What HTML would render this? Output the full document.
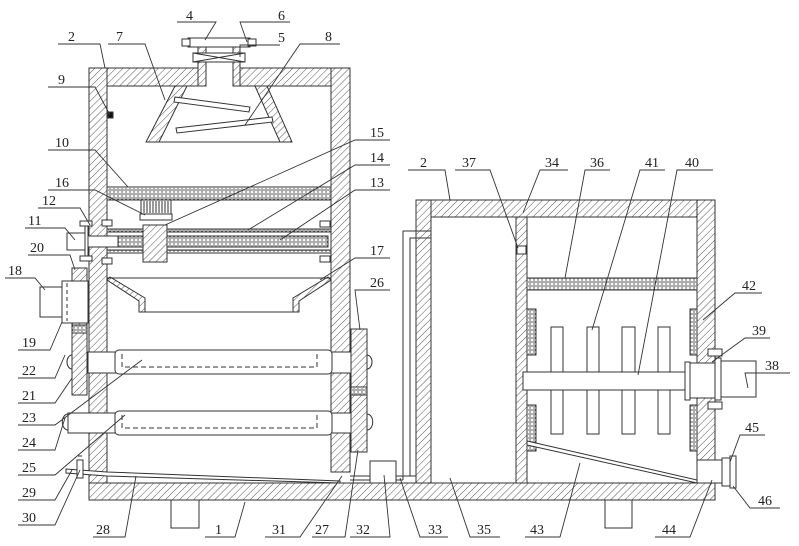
<!DOCTYPE html>
<html><head><meta charset="utf-8"><style>
html,body{margin:0;padding:0;background:#fff;}
svg{display:block;}
text{font-family:"Liberation Serif",serif;font-size:14px;fill:#222;}
</style></head><body>
<svg width="799" height="546" viewBox="0 0 799 546" xmlns="http://www.w3.org/2000/svg">
<defs>
<pattern id="h" width="5" height="5" patternUnits="userSpaceOnUse" patternTransform="rotate(45)">
<rect width="5" height="5" fill="#fff"/><line x1="0" y1="0" x2="0" y2="5" stroke="#555" stroke-width="1"/></pattern>
<pattern id="x" width="4" height="4" patternUnits="userSpaceOnUse">
<rect width="4" height="4" fill="#fff"/><circle cx="2" cy="2" r="1.2" fill="none" stroke="#444" stroke-width="0.7"/></pattern>
</defs>
<g stroke="#333" stroke-width="1" fill="url(#h)">
<rect x="89" y="68" width="109" height="18"/>
<rect x="240" y="68" width="110" height="18"/>
<rect x="331" y="68" width="19" height="404"/>
<rect x="89" y="68" width="18" height="415"/>
<rect x="89" y="483" width="626" height="17"/>
<rect x="416" y="200" width="299" height="17"/>
<rect x="416" y="200" width="15" height="283"/>
<rect x="697" y="200" width="18" height="260"/>
<rect x="516" y="217" width="11" height="266"/>
<rect x="198" y="45" width="8" height="41"/>
<rect x="233" y="45" width="7" height="41"/>
<polygon points="175,86 187,86 159,142 146,142"/>
<polygon points="255,86 267,86 292,142 280,142"/>
<rect x="72" y="268" width="15" height="127"/>
<rect x="351" y="329" width="16" height="123"/>
<polygon points="107,280 110,277 145,298 145,312 139,312 139,301"/>
<polygon points="331,280 328,277 293,298 293,312 299,312 299,301"/>
</g>
<g stroke="#333" stroke-width="1" fill="url(#x)">
<rect x="107" y="187" width="224" height="13"/>
<rect x="527" y="278" width="170" height="12"/>
<rect x="527" y="309" width="9" height="46"/>
<rect x="527" y="405" width="9" height="46"/>
<rect x="690" y="309" width="7" height="46"/>
<rect x="690" y="405" width="7" height="46"/>
<rect x="72" y="325" width="15" height="8"/>
<rect x="351" y="387" width="16" height="8"/>
</g>
<g stroke="#333" stroke-width="1" fill="#fff">
<rect x="193" y="53" width="52" height="9"/>
<line x1="193" y1="53" x2="245" y2="62"/><line x1="193" y1="62" x2="245" y2="53"/>
<rect x="188" y="38" width="62" height="9"/>
<rect x="182" y="39" width="8" height="7"/><rect x="248" y="39" width="8" height="7"/>
<line x1="146" y1="142" x2="292" y2="142"/>
<polygon points="175,97 250,107 249,112 174,102"/>
<polygon points="176,128 272,117 273,122 177,133"/>
<rect x="108" y="112" width="5" height="6" fill="#111"/>
<rect x="107" y="229" width="224" height="3" fill="url(#x)"/>
<rect x="107" y="250" width="224" height="3" fill="url(#x)"/>
<rect x="118" y="236" width="210" height="11" fill="url(#x)"/>
<rect x="143" y="225" width="24" height="37" fill="url(#h)"/>
<rect x="140" y="214" width="32" height="6"/>
<rect x="141" y="200" width="30" height="14"/>
<path d="M144 201V213M147 201V213M150 201V213M153 201V213M156 201V213M159 201V213M162 201V213M165 201V213M168 201V213" fill="none"/>
<rect x="67" y="233" width="18" height="17"/>
<rect x="85" y="226" width="3" height="32"/>
<rect x="88" y="236" width="30" height="11"/>
<rect x="80" y="221" width="12" height="5"/><rect x="80" y="256" width="12" height="5"/>
<rect x="102" y="220" width="10" height="6"/><rect x="102" y="258" width="10" height="6"/>
<rect x="320" y="221" width="10" height="6"/><rect x="320" y="256" width="10" height="6"/>
<line x1="107" y1="278" x2="331" y2="278"/>
<line x1="145" y1="312" x2="293" y2="312"/>
<rect x="40" y="287" width="22" height="30"/>
<rect x="62" y="281" width="26" height="42"/>
<line x1="67" y1="283" x2="67" y2="321" stroke-dasharray="4,3"/>
<rect x="88" y="352" width="263" height="21"/>
<rect x="115" y="350" width="217" height="24" rx="4"/>
<path d="M122 354V367H317V354" fill="none" stroke-dasharray="5,3"/>
<rect x="68" y="413" width="283" height="20"/>
<rect x="115" y="411" width="217" height="24" rx="4"/>
<path d="M122 415V428H317V415" fill="none" stroke-dasharray="5,3"/>
<path d="M72 355 A5 7 0 0 0 72 369Z"/>
<path d="M68 414 A5 7 0 0 0 68 430Z"/>
<path d="M367 355 A5 7 0 0 1 367 369Z"/>
<path d="M367 414 A5 7 0 0 1 367 430Z"/>
<polygon points="66,469 107,472 340,481 340,483 107,476 66,473"/>
<rect x="77" y="460" width="6" height="18"/>
<line x1="78" y1="456" x2="82" y2="456"/>
<line x1="331" y1="472" x2="350" y2="472"/>
<line x1="350" y1="476" x2="416" y2="476"/>
<line x1="350" y1="480" x2="403" y2="480"/>
<rect x="370" y="461" width="26" height="22"/>
<path d="M403 480 V231 H431" fill="none"/>
<path d="M410 476 V238 H431" fill="none"/>
<line x1="431" y1="217" x2="431" y2="483"/>
<rect x="517" y="246" width="9" height="8"/>
<rect x="551" y="327" width="12" height="107"/>
<rect x="587" y="327" width="12" height="107"/>
<rect x="622" y="327" width="13" height="107"/>
<rect x="658" y="327" width="12" height="107"/>
<rect x="523" y="372" width="162" height="18"/>
<rect x="685" y="362" width="5" height="38"/>
<rect x="690" y="363" width="28" height="35"/>
<rect x="715" y="358" width="6" height="42"/>
<rect x="721" y="361" width="35" height="36"/>
<rect x="708" y="349" width="14" height="7"/><rect x="708" y="402" width="14" height="7"/>
<polygon points="527,441 697,480 697,483 527,445"/>
<rect x="697" y="460" width="26" height="23"/>
<rect x="722" y="458" width="8" height="28"/>
<rect x="730" y="456" width="6" height="32"/>
<rect x="171" y="500" width="28" height="28"/>
<rect x="605" y="500" width="27" height="28"/>
</g>
<g stroke="#333" stroke-width="0.9" fill="none">
<path d="M177 22H216L205 40"/><path d="M290 22H240L247 42"/><path d="M280 45H240L240 57"/>
<path d="M58 44H100L105 68"/><path d="M108 44H145L165 100"/><path d="M340 44H300L245 125"/>
<path d="M48 87H95L110 115"/><path d="M48 150H95L128 187"/>
<path d="M390 140H355L165 225"/><path d="M390 165H355L248 230"/><path d="M390 190H355L280 240"/>
<path d="M48 190H95L145 215"/><path d="M38 208H80L90 225"/><path d="M25 228H65L75 240"/>
<path d="M28 255H70L75 270"/><path d="M390 258H355L320 280"/><path d="M5 278H35L45 290"/>
<path d="M18 350H50L62 322"/><path d="M18 378H55L65 355"/><path d="M18 403H55L72 378"/>
<path d="M18 425H55L142 360"/><path d="M18 450H55L65 418"/><path d="M18 475H55L125 415"/>
<path d="M18 500H55L72 470"/><path d="M18 525H55L80 470"/>
<path d="M93 537H125L136 476"/><path d="M205 537H235L245 502"/><path d="M265 537H300L342 476"/>
<path d="M312 537H345L358 450"/><path d="M350 537H390L384 475"/><path d="M390 290H355L360 330"/>
<path d="M448 537H420L400 478"/><path d="M500 537H470L450 478"/><path d="M525 537H560L580 463"/>
<path d="M655 537H690L712 480"/><path d="M780 508H750L733 486"/><path d="M765 435H740L730 462"/>
<path d="M790 373H745L748 388"/><path d="M770 338H745L712 362"/><path d="M762 293H735L703 320"/>
<path d="M408 170H445L450 200"/><path d="M455 170H490L518 248"/><path d="M568 170H540L523 213"/>
<path d="M610 170H585L565 278"/><path d="M665 170H640L592 330"/><path d="M713 170H677L638 375"/>
</g>
<g>
<text x="186" y="20">4</text><text x="278" y="20">6</text><text x="278" y="42">5</text>
<text x="68" y="41">2</text><text x="116" y="41">7</text><text x="325" y="41">8</text>
<text x="58" y="84">9</text><text x="55" y="147">10</text>
<text x="370" y="137">15</text><text x="370" y="162">14</text><text x="370" y="187">13</text>
<text x="55" y="187">16</text><text x="42" y="205">12</text><text x="28" y="225">11</text>
<text x="30" y="252">20</text><text x="370" y="255">17</text><text x="8" y="275">18</text>
<text x="22" y="347">19</text><text x="22" y="375">22</text><text x="22" y="400">21</text>
<text x="22" y="422">23</text><text x="22" y="447">24</text><text x="22" y="472">25</text>
<text x="22" y="497">29</text><text x="22" y="522">30</text>
<text x="96" y="534">28</text><text x="215" y="534">1</text><text x="272" y="534">31</text>
<text x="315" y="534">27</text><text x="356" y="534">32</text><text x="370" y="287">26</text>
<text x="428" y="534">33</text><text x="477" y="534">35</text><text x="530" y="534">43</text>
<text x="662" y="534">44</text><text x="758" y="505">46</text><text x="745" y="432">45</text>
<text x="765" y="370">38</text><text x="752" y="335">39</text><text x="742" y="290">42</text>
<text x="420" y="167">2</text><text x="462" y="167">37</text><text x="545" y="167">34</text>
<text x="590" y="167">36</text><text x="645" y="167">41</text><text x="685" y="167">40</text>
</g>
</svg>
</body></html>
